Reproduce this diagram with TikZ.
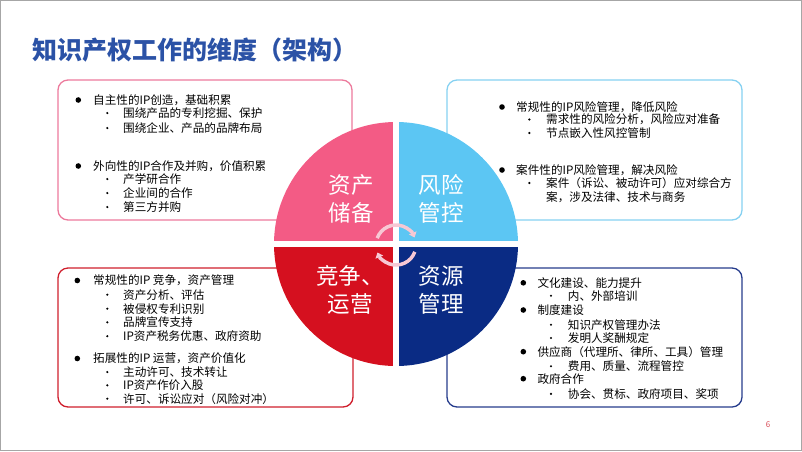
\documentclass[tikz,border=0pt]{standalone}
\usepackage{fontspec}
\setmainfont{Noto Sans CJK SC}
\usetikzlibrary{arrows.meta}

\definecolor{titleblue}{HTML}{2B52A6}
\definecolor{pinkq}{HTML}{F35B85}
\definecolor{skyq}{HTML}{5CC6F3}
\definecolor{redq}{HTML}{D5101F}
\definecolor{navyq}{HTML}{0A2B84}
\definecolor{pinkline}{HTML}{EC7A9C}
\definecolor{skyline}{HTML}{86D1F1}
\definecolor{redline}{HTML}{CF1E2C}
\definecolor{navyline}{HTML}{263C8C}
\definecolor{cyclepink}{HTML}{F7C8D4}

\tikzset{
    panel/.style={draw, line width=1.3pt, rounded corners=10pt},
    mainitem/.style={anchor=west, inner sep=0pt, font=\fontsize{11.6}{13}\selectfont},
    subitem/.style={mainitem},
    quadtext/.style={text=white, align=center, inner sep=0pt, font=\fontsize{22.5}{28}\selectfont},
    cyc/.style={cyclepink, line width=3.5pt, -{Triangle[length=5pt,width=8pt]}}
}

\begin{document}
\begin{tikzpicture}[x=1pt, y=-1pt]
    \useasboundingbox (0,0) rectangle (802,451);
    \draw[gray!70, line width=1pt] (0.5,0.5) rectangle (801.5,450.5);

    % title
    \node[anchor=west, inner sep=0pt, text=titleblue, font=\fontsize{25}{30}\selectfont\bfseries] (title) at (32,50) {知识产权工作的维度（架构）};

    % panels
    \draw[panel, pinkline] (58,80) rectangle (352,220);
    \draw[panel, skyline] (447,80) rectangle (742,220);
    \draw[panel, redline] (58,268) rectangle (353,407);
    \draw[panel, navyline] (447,268) rectangle (742,407);

    % wheel
    \coordinate (hub) at (396,244);
    \begin{scope}
        \clip (hub) rectangle (270,118);
        \fill[pinkq] (hub) circle (122pt);
    \end{scope}
    \begin{scope}
        \clip (hub) rectangle (522,118);
        \fill[skyq] (hub) circle (122pt);
    \end{scope}
    \begin{scope}
        \clip (hub) rectangle (270,370);
        \fill[redq] (hub) circle (122pt);
    \end{scope}
    \begin{scope}
        \clip (hub) rectangle (522,370);
        \fill[navyq] (hub) circle (122pt);
    \end{scope}
    \draw[white, line width=6pt] (272,244) -- (520,244);
    \draw[white, line width=6pt] (396,120) -- (396,368);

    \node[quadtext] (assets) at (351,199) {资产\\储备};
    \node[quadtext] (risk) at (441,199) {风险\\管控};
    \node[quadtext] (compete) at (350,290) {竞争、\\运营};
    \node[quadtext] (resource) at (441,290) {资源\\管理};

    % cycle arrows
    \coordinate (ring) at (396,245);
    \draw[cyc] ([shift={(-160:20)}]ring) arc[start angle=-160, end angle=-22, radius=20];
    \draw[cyc] ([shift={(20:20)}]ring) arc[start angle=20, end angle=158, radius=20];

    % top left
    \foreach \y/\txt [count=\i] in {100/自主性的IP创造，基础积累, 166/外向性的IP合作及并购，价值积累}{
        \fill (78.3,\y) circle (2.8pt);
        \node[mainitem] (tlm\i) at (93,\y) {\txt};
    }
    \foreach \y/\txt [count=\i] in {113/围绕产品的专利挖掘、保护, 128/围绕企业、产品的品牌布局, 179/产学研合作, 193/企业间的合作, 207/第三方并购}{
        \fill (107.3,\y) circle (1.2pt);
        \node[subitem] (tls\i) at (123,\y) {\txt};
    }

    % top right
    \foreach \y/\txt [count=\i] in {107/常规性的IP风险管理，降低风险, 170/案件性的IP风险管理，解决风险}{
        \fill (502,\y) circle (2.8pt);
        \node[mainitem] (trm\i) at (516,\y) {\txt};
    }
    \foreach \y/\txt [count=\i] in {119.5/需求性的风险分析，风险应对准备, 133/节点嵌入性风控管制, 183/案件（诉讼、被动许可）应对综合方}{
        \fill (529.3,\y) circle (1.2pt);
        \node[subitem] (trs\i) at (546,\y) {\txt};
    }
    \node[subitem] (trs4) at (546,197) {案，涉及法律、技术与商务};

    % bottom left
    \foreach \y/\txt [count=\i] in {280.5/常规性的IP 竞争，资产管理, 358.5/拓展性的IP 运营，资产价值化}{
        \fill (77.3,\y) circle (2.8pt);
        \node[mainitem] (blm\i) at (93,\y) {\txt};
    }
    \foreach \y/\txt [count=\i] in {294.7/资产分析、评估, 308.7/被侵权专利识别, 322.3/品牌宣传支持, 336.2/IP资产税务优惠、政府资助, 372/主动许可、技术转让, 385.3/IP资产作价入股, 398.7/许可、诉讼应对（风险对冲）}{
        \fill (107.3,\y) circle (1.2pt);
        \node[subitem] (bls\i) at (123,\y) {\txt};
    }

    % bottom right
    \foreach \y/\txt [count=\i] in {282.8/文化建设、能力提升, 310/制度建设, 351.7/供应商（代理所、律所、工具）管理, 378.7/政府合作}{
        \fill (523.3,\y) circle (2.8pt);
        \node[mainitem] (brm\i) at (537.3,\y) {\txt};
    }
    \foreach \y/\txt [count=\i] in {295.7/内、外部培训, 324.7/知识产权管理办法, 338/发明人奖酬规定, 366.2/费用、质量、流程管控, 393.8/协会、贯标、政府项目、奖项}{
        \fill (551,\y) circle (1.2pt);
        \node[subitem] (brs\i) at (567.7,\y) {\txt};
    }

    % page number
    \node[text=redline!80, font=\fontsize{8}{9}\selectfont] (pagenum) at (768,425) {6};
\end{tikzpicture}
\end{document}
